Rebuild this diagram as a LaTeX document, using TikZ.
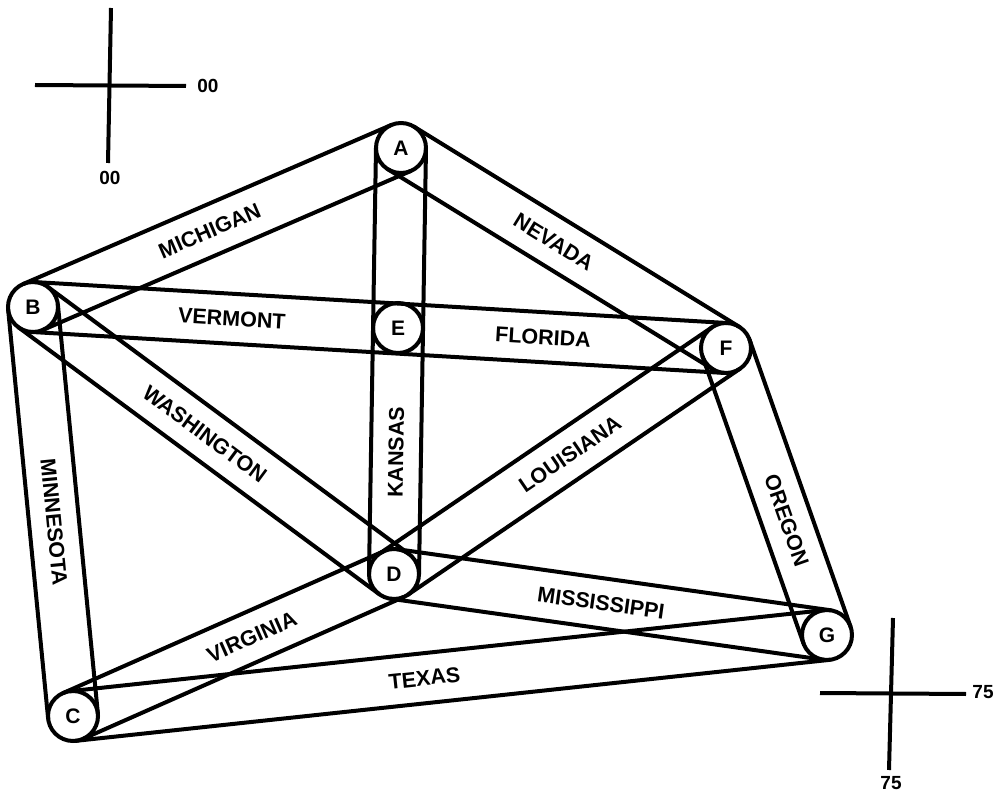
\documentclass[tikz,border=0pt]{standalone}
\usepackage{fontspec}
\setmainfont{Liberation Sans}
\usetikzlibrary{calc}
\newcommand\bandpair[2]{%
  \draw[bandline] ($(#1.center)!25pt!90:(#2.center)$) -- ($(#2.center)!25pt!-90:(#1.center)$);
  \draw[bandline] ($(#1.center)!25pt!-90:(#2.center)$) -- ($(#2.center)!25pt!90:(#1.center)$);}
\begin{document}
\begin{tikzpicture}[x=1pt,y=-1pt,
  bandline/.style={line width=4pt, line cap=round},
  hub/.style={circle, draw, line width=4pt, fill=white, minimum size=50pt, inner sep=0pt,
    font=\fontsize{21}{21}\selectfont\bfseries},
  lbl/.style={sloped, inner sep=0pt, font=\fontsize{21.5}{21.5}\selectfont\bfseries},
  regline/.style={line width=4pt},
  reglbl/.style={inner sep=0pt, font=\fontsize{19}{19}\selectfont\bfseries}]
\useasboundingbox (0,0) rectangle (994,794);

% registration marks
\draw[regline] (111,8) -- (108,163);
\draw[regline] (35,85) -- (186,86);
\node[reglbl] (tl1) at (208,86) {00};
\node[reglbl] (tl2) at (110,178) {00};
\draw[regline] (893,618) -- (889,770);
\draw[regline] (820,693) -- (966,694);
\node[reglbl] (br1) at (983,692) {75};
\node[reglbl] (br2) at (891,783) {75};

% hubs
\node[hub] (A) at (401,148) {A};
\node[hub] (B) at (33,307) {B};
\node[hub] (E) at (398,328) {E};
\node[hub] (F) at (726,348) {F};
\node[hub] (D) at (394,574) {D};
\node[hub] (G) at (827,635) {G};
\node[hub] (C) at (73,716) {C};

% bands
\bandpair{B}{A}
\bandpair{A}{F}
\bandpair{A}{D}
\bandpair{B}{F}
\bandpair{B}{D}
\bandpair{B}{C}
\bandpair{D}{F}
\bandpair{C}{D}
\bandpair{D}{G}
\bandpair{F}{G}
\bandpair{C}{G}

% labels
\path (B.center) -- node[lbl,pos=0.48] {MICHIGAN} (A.center);
\path (A.center) -- node[lbl,pos=0.47] {NEVADA} (F.center);
\path (B.center) -- node[lbl,pos=0.287] {VERMONT} (F.center);
\path (B.center) -- node[lbl,pos=0.736] {FLORIDA} (F.center);
\path (D.center) -- node[lbl,pos=0.286] {KANSAS} (A.center);
\path (B.center) -- node[lbl,pos=0.476] {WASHINGTON} (D.center);
\path (B.center) -- node[lbl,pos=0.526] {MINNESOTA} (C.center);
\path (D.center) -- node[lbl,pos=0.53] {LOUISIANA} (F.center);
\path (C.center) -- node[lbl,pos=0.557] {VIRGINIA} (D.center);
\path (D.center) -- node[lbl,pos=0.478] {MISSISSIPPI} (G.center);
\path (F.center) -- node[lbl,pos=0.6] {OREGON} (G.center);
\path (C.center) -- node[lbl,pos=0.466] {TEXAS} (G.center);
\end{tikzpicture}
\end{document}
